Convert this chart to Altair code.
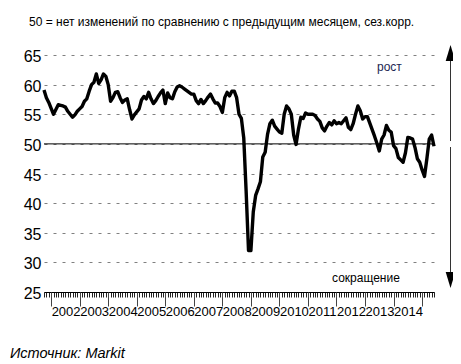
import altair as alt
import pandas as pd

# Monthly index, Oct 2001 .. Jun 2015
start_period = "2001-10"
pmi = [
    59.1, 57.8, 57.0, 56.0, 55.0, 55.8, 56.6, 56.5, 56.4, 56.2,
    55.5, 55.0, 54.5, 54.9, 55.5, 55.9, 56.3, 57.2, 57.6, 58.9,
    60.0, 60.4, 61.8, 60.2, 60.8, 61.8, 61.4, 60.0, 57.2, 57.8,
    58.7, 58.8, 57.8, 57.0, 57.4, 57.6, 55.8, 54.2, 54.9, 55.4,
    55.9, 57.4, 58.0, 57.6, 58.7, 57.6, 56.8, 57.3, 58.0, 58.6,
    59.1, 56.8, 58.6, 57.8, 57.6, 58.8, 59.6, 59.8, 59.6, 59.3,
    59.0, 58.7, 58.4, 58.4, 57.3, 56.8, 57.5, 56.8, 57.3, 57.9,
    58.4, 57.6, 56.9, 56.9, 56.3, 55.3, 57.8, 58.7, 58.1, 58.9,
    58.9, 57.8, 55.0, 54.3, 51.0, 42.0, 32.0, 32.0, 38.5, 41.3,
    42.4, 43.6, 47.8, 48.6, 51.6, 53.4, 54.0, 53.0, 52.5, 52.0,
    51.8, 55.0, 56.4, 55.9, 55.0, 51.5, 49.9, 52.5, 54.5, 54.3,
    55.2, 55.0, 55.0, 55.0, 54.8, 54.2, 53.8, 52.7, 52.2, 53.0,
    53.6, 53.2, 53.9, 53.4, 53.6, 53.4, 53.9, 54.4, 52.8, 52.4,
    53.4, 55.0, 56.4, 55.6, 54.2, 54.6, 54.6, 53.5, 52.4, 51.3,
    50.1, 48.8, 50.8, 51.5, 53.1, 52.3, 52.0, 49.7, 49.2, 47.7,
    47.3, 46.9, 48.5, 51.1, 51.0, 50.8, 49.4, 47.5, 46.9, 45.6,
    44.5, 47.5, 50.8, 51.5, 49.6,
]
months = pd.period_range(start_period, periods=len(pmi), freq="M")
t = [p.year + (p.month - 1) / 12 for p in months]
df = pd.DataFrame({"t": t, "pmi": pmi})

y_ticks = [25, 30, 35, 40, 45, 50, 55, 60, 65]
year_ticks = list(range(2002, 2016))
month_ticks = t
baseline = [50]

title_text = "50 = нет изменений по сравнению с предыдущим месяцем, сез.корр."
up_text = "рост"
down_text = "сокращение"
source_text = "Источник: Markit"

FONT = "Liberation Sans"

x_scale = alt.Scale(domain=[t[0], t[-1]], nice=False, zero=False)
y_scale = alt.Scale(domain=[25, 65], nice=False, zero=False)

y_axis = alt.Axis(values=y_ticks, grid=True, gridDash=[3, 6], gridColor="#808080",
                  gridWidth=1, domain=False, ticks=False, labelFontSize=16,
                  labelFont=FONT, labelColor="black", labelPadding=3, labelOffset=1.5,
                  title=None)

rule50 = alt.Chart(pd.DataFrame({"v": baseline})).mark_rule(
    color="black", strokeWidth=1).encode(
    y=alt.Y("v:Q", scale=y_scale, axis=y_axis))

line = alt.Chart(df).mark_line(color="black", strokeWidth=3.4, strokeJoin="round").encode(
    x=alt.X("t:Q", scale=x_scale,
            axis=alt.Axis(orient="bottom", values=month_ticks, labels=False, tickSize=5,
                          tickColor="#222", tickWidth=1, domain=True, domainColor="black",
                          grid=False, title=None)),
    y=alt.Y("pmi:Q", scale=y_scale, axis=y_axis))

major = alt.Chart(df).mark_line(opacity=0).encode(
    x=alt.X("t:Q", scale=x_scale,
            axis=alt.Axis(orient="bottom", values=year_ticks, tickSize=14, tickColor="#444",
                          tickWidth=1,
                          labelExpr="datum.value < 2015 ? format(datum.value, 'd') : ''",
                          labelAlign="left", labelBaseline="top", labelPadding=-1,
                          labelFontSize=13, labelFont=FONT, labelColor="black",
                          labelOverlap=False, labelFlush=False, domain=False, grid=False,
                          title=None)),
    y=alt.Y("pmi:Q", scale=y_scale, axis=y_axis))

one = pd.DataFrame({"a": [0]})

arrow_top = alt.Chart(one).mark_rule(color="#333", strokeWidth=1).encode(
    x=alt.value(406.5), y=alt.value(5), y2=alt.value(86))
arrow_bot = alt.Chart(one).mark_rule(color="#333", strokeWidth=1).encode(
    x=alt.value(406.5), y=alt.value(92), y2=alt.value(218))
head_up = alt.Chart(one).mark_point(shape="M0,-1L0.6,1L-0.6,1Z", filled=True, color="black",
                                     size=256, opacity=1).encode(
    x=alt.value(406.5), y=alt.value(-2))
head_down = alt.Chart(one).mark_point(shape="M0,1L0.6,-1L-0.6,-1Z", filled=True, color="black",
                                       size=256, opacity=1).encode(
    x=alt.value(406.5), y=alt.value(225))

def label(txt, x, y, size, color="black", style="normal"):
    return alt.Chart(pd.DataFrame({"s": [txt]})).mark_text(
        align="left", baseline="alphabetic", fontSize=size, font=FONT, color=color,
        fontStyle=style).encode(text="s:N", x=alt.value(x), y=alt.value(y))

title_l = label(title_text, -15, -29, 12)
up_l = label(up_text, 333, 16, 12, color="#1c2552")
down_l = label(down_text, 288, 226.5, 12)
source_l = label(source_text, -34, 303, 14.5, style="italic")

chart = alt.layer(
    rule50, line, major, arrow_top, arrow_bot, head_up, head_down,
    title_l, up_l, down_l, source_l
).resolve_scale(x="independent").resolve_axis(x="independent").properties(
    width=390, height=237,
    autosize=alt.AutoSizeParams(type="none"),
    padding={"left": 36, "top": 47, "right": 19, "bottom": 72},
    background="white",
).configure_view(stroke=None)

chart.save("out.html", embed_options={"renderer": "svg", "actions": False})
